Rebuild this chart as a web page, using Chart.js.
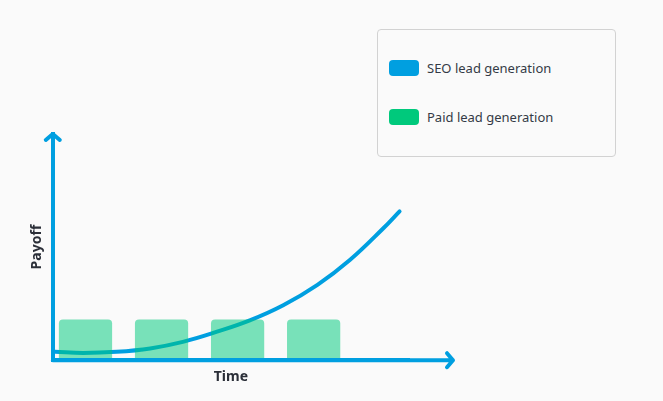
<!DOCTYPE html>
<html>
<head>
<meta charset="utf-8">
<script src="https://cdn.jsdelivr.net/npm/chart.js@4.4.1/dist/chart.umd.min.js"></script>
<style>
  html, body { margin: 0; padding: 0; background: #fafafa; }
  #wrap { position: relative; width: 663px; height: 401px; }
  #legend {
    position: absolute; left: 377px; top: 29px; width: 237px; height: 126px;
    border: 1px solid #d2d2d2; border-radius: 4px; background: #fafafa;
    font-family: "Noto Sans", sans-serif; font-size: 13px; color: #343a46;
  }
  .item { position: absolute; left: 11px; height: 16px; display: flex; align-items: center; white-space: nowrap; }
  .swatch { width: 30px; height: 16px; border-radius: 4px; margin-right: 8px; }
</style>
</head>
<body>
<div id="wrap">
  <canvas id="myChart" width="663" height="401"></canvas>
  <div id="legend"></div>
</div>
<script>
// --- Données ---
const barTimes   = [1, 2, 3, 4];
const paidPayoff = [1.8, 1.8, 1.8, 1.8];
const seoTimes   = [0.6, 0.97, 1.41, 1.85, 2.28, 2.73, 3.16, 3.6, 4.05, 4.48, 4.91, 5.13];
const seoPayoff  = [0.37, 0.32, 0.37, 0.52, 0.81, 1.26, 1.76, 2.43, 3.33, 4.44, 5.81, 6.58];
const seriesNames = ['SEO lead generation', 'Paid lead generation'];

const blue  = '#009fe0';
const green = '#00c97c';
const textDark = '#2b2f38';

// --- Flèches des axes (décor) ---
const axisArrows = {
    id: 'axisArrows',
    afterDraw(chart) {
        const { ctx, chartArea: a } = chart;
        ctx.save();
        ctx.strokeStyle = blue;
        ctx.lineWidth   = 4;
        ctx.lineCap     = 'round';
        ctx.lineJoin    = 'round';
        ctx.beginPath();
        // coin + prolongement de l'axe X
        ctx.moveTo(a.left, a.bottom);
        ctx.lineTo(a.right + 44, a.bottom);
        // flèche X
        ctx.moveTo(a.right + 38, a.bottom - 7);
        ctx.lineTo(a.right + 44, a.bottom);
        ctx.lineTo(a.right + 38, a.bottom + 7);
        // flèche Y
        ctx.moveTo(a.left - 7, a.top + 6);
        ctx.lineTo(a.left, a.top);
        ctx.lineTo(a.left + 7, a.top + 6);
        ctx.stroke();
        ctx.restore();
    }
};

const ctx = document.getElementById('myChart').getContext('2d');
const chart = new Chart(ctx, {
    data: {
        datasets: [
            {
                type: 'line',
                label: seriesNames[0],
                data: seoTimes.map((t, i) => ({ x: t, y: seoPayoff[i] })),
                borderColor: blue,
                borderWidth: 4,
                borderCapStyle: 'round',
                tension: 0.4,
                pointRadius: 0,
                order: 2
            },
            {
                type: 'bar',
                label: seriesNames[1],
                data: barTimes.map((t, i) => ({ x: t, y: paidPayoff[i] })),
                backgroundColor: 'rgba(0, 201, 124, 0.52)',
                borderRadius: { topLeft: 4, topRight: 4 },
                borderSkipped: 'start',
                categoryPercentage: 1,
                barPercentage: 0.7,
                order: 1
            }
        ]
    },
    options: {
        responsive: false,
        animation: false,
        layout: { padding: { left: 29, top: 134, right: 254, bottom: 16 } },
        plugins: {
            legend: { display: false },
            tooltip: { enabled: false }
        },
        scales: {
            x: {
                type: 'linear',
                offset: false,
                min: 0.57,
                max: 5.254,
                grid: { display: false, drawTicks: false, offset: false },
                border: { display: true, color: blue, width: 4, z: 1 },
                ticks: { display: false },
                title: {
                    display: true, text: 'Time', color: textDark,
                    font: { family: 'Noto Sans', size: 14, weight: 'bold' },
                    padding: { top: 8, bottom: 0 }
                }
            },
            y: {
                min: 0,
                max: 10,
                grid: { display: false, drawTicks: false },
                border: { display: true, color: blue, width: 4, z: 1 },
                ticks: { display: false },
                title: {
                    display: true, text: 'Payoff', color: textDark,
                    font: { family: 'Noto Sans', size: 14, weight: 'bold' },
                    padding: { top: 0, bottom: 7 }
                }
            }
        }
    },
    plugins: [axisArrows]
});

// --- Légende HTML ---
const legend = document.getElementById('legend');
const swatches = [blue, green];
const itemTops = [30, 79];
seriesNames.forEach((name, i) => {
    const item = document.createElement('div');
    item.className = 'item';
    item.style.top = itemTops[i] + 'px';
    const sw = document.createElement('span');
    sw.className = 'swatch';
    sw.style.background = swatches[i];
    const label = document.createElement('span');
    label.textContent = name;
    item.appendChild(sw);
    item.appendChild(label);
    legend.appendChild(item);
});
</script>
</body>
</html>
